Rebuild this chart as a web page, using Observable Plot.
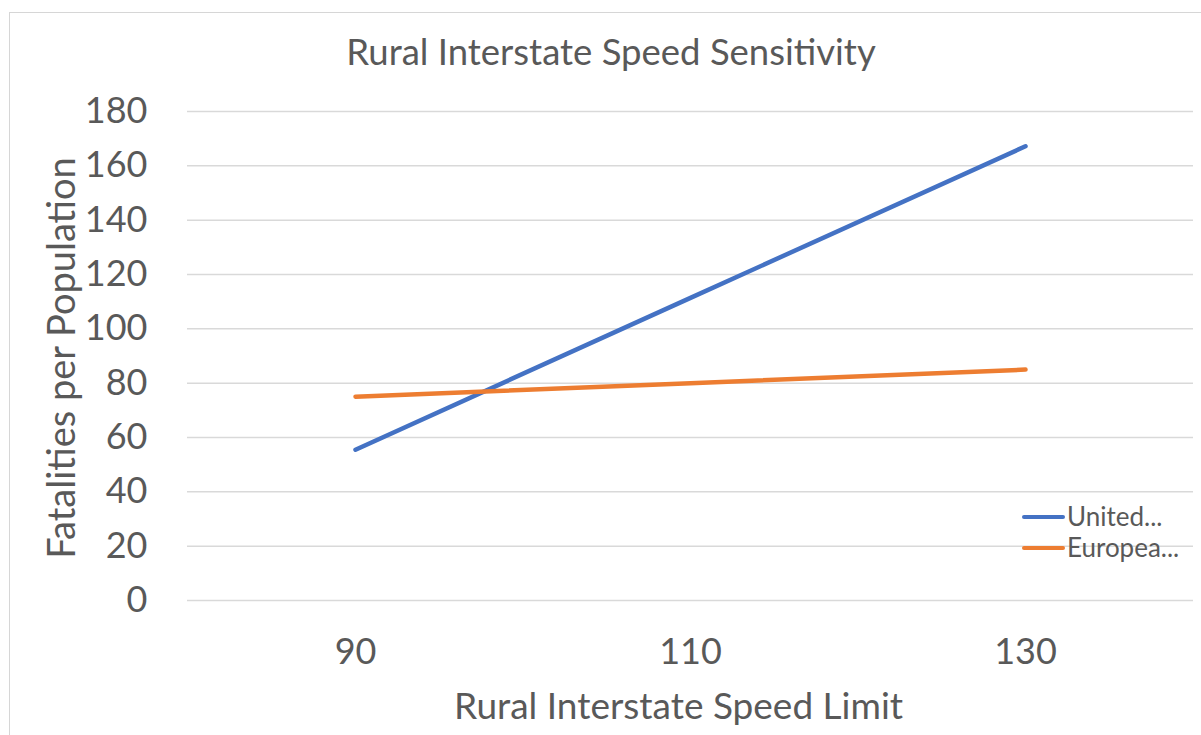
<!DOCTYPE html>
<html>
<head>
<meta charset="utf-8">
<script src="https://cdn.jsdelivr.net/npm/d3@7"></script>
<script src="https://cdn.jsdelivr.net/npm/@observablehq/plot@0.6"></script>
<style>
  html, body { margin: 0; padding: 0; background: #fff; }
  #wrap { position: relative; width: 1201px; height: 735px; overflow: hidden; font-family: Lato, "Open Sans", sans-serif; color: #595959; }
  #frame { position: absolute; left: 9px; top: 12px; right: -5px; bottom: -5px; border-left: 1.5px solid #d6d6d6; border-top: 1.5px solid #d6d6d6; }
  #title { position: absolute; left: 0; width: 1222px; top: 29px; text-align: center; font-size: 36.5px; white-space: nowrap; }
  #legend { position: absolute; left: 1022px; top: 501px; font-size: 26px; line-height: 31px; }
  .item { display: flex; align-items: center; white-space: nowrap; }
  .sw { width: 43px; height: 4px; border-radius: 2px; margin-right: 2px; }
  #chart { position: absolute; left: 0; top: 0; }
</style>
</head>
<body>
<div id="wrap">
  <div id="frame"></div>
  <div id="chart"></div>
  <div id="title"></div>
  <div id="legend"></div>
</div>
<script>
// ---- data ----
const titleText = "Rural Interstate Speed Sensitivity";
const xLabel = "Rural Interstate Speed Limit";
const yLabel = "Fatalities per Population";
const speeds = [90, 110, 130];
const seriesNames = ["United...", "Europea..."];
const unitedValues = [55.5, 111.4, 167.2];
const europeanValues = [75, 80, 85];
const seriesColors = ["#4472C4", "#ED7D31"];
const yTicks = [0, 20, 40, 60, 80, 100, 120, 140, 160, 180];

const rows = [];
speeds.forEach((s, i) => {
  rows.push({speed: String(s), value: unitedValues[i], series: seriesNames[0]});
});
speeds.forEach((s, i) => {
  rows.push({speed: String(s), value: europeanValues[i], series: seriesNames[1]});
});

const chart = Plot.plot({
  width: 1201,
  height: 735,
  marginLeft: 187,
  marginRight: 8,
  marginTop: 111,
  marginBottom: 135,
  style: {fontFamily: "Lato, 'Open Sans', sans-serif", color: "#595959", background: "transparent"},
  x: {type: "point", domain: speeds.map(String), padding: 0.5},
  y: {domain: [0, 180]},
  color: {domain: seriesNames, range: seriesColors},
  marks: [
    Plot.gridY(yTicks, {stroke: "#d9d9d9", strokeOpacity: 1, strokeWidth: 1.5}),
    Plot.axisY(yTicks, {tickSize: 0, tickPadding: 40, fontSize: 36, label: null}),
    Plot.axisX({tickSize: 0, tickPadding: 38, fontSize: 36, label: null}),
    Plot.line(rows, {x: "speed", y: "value", z: "series", stroke: "series", strokeWidth: 4.5, strokeLinecap: "round"}),
    Plot.text([yLabel], {frameAnchor: "left", textAnchor: "middle", rotate: -90, dx: -125, dy: 2, fontSize: 38, fill: "#595959"}),
    Plot.text([xLabel], {frameAnchor: "bottom", dy: 118, fontSize: 37, fill: "#595959", dx: -12})
  ]
});
document.getElementById("chart").appendChild(chart);
document.getElementById("title").textContent = titleText;

const legend = document.getElementById("legend");
seriesNames.forEach((n, i) => {
  const it = document.createElement("div");
  it.className = "item";
  const sw = document.createElement("div");
  sw.className = "sw";
  sw.style.background = seriesColors[i];
  const t = document.createElement("span");
  t.textContent = n;
  it.appendChild(sw); it.appendChild(t);
  legend.appendChild(it);
});
</script>
</body>
</html>
